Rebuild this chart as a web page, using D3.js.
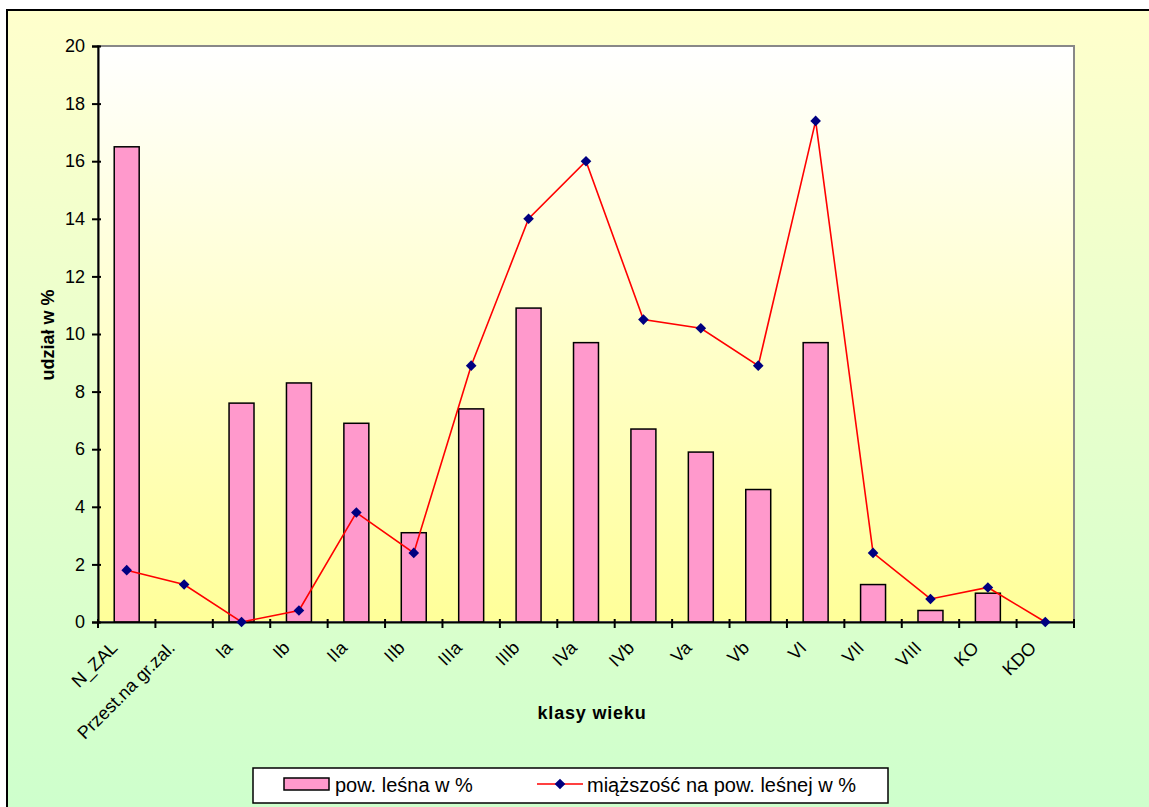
<!DOCTYPE html>
<html><head><meta charset="utf-8">
<script src="https://cdn.jsdelivr.net/npm/d3@7"></script>
<style>body{margin:0;background:#fff}svg{display:block}text{font-family:"Liberation Sans",Arial,sans-serif}</style>
</head><body>
<script>
const categories = ["N_ZAL","Przest.na gr.zal.","Ia","Ib","IIa","IIb","IIIa","IIIb","IVa","IVb","Va","Vb","VI","VII","VIII","KO","KDO"];
const powLesna = [16.5,0,7.6,8.3,6.9,3.1,7.4,10.9,9.7,6.7,5.9,4.6,9.7,1.3,0.4,1.0,0];
const miazszosc = [1.8,1.3,0,0.4,3.8,2.4,8.9,14.0,16.0,10.5,10.2,8.9,17.4,2.4,0.8,1.2,0];
const yTicks = [0,2,4,6,8,10,12,14,16,18,20];
const seriesNames = ["pow. leśna w %","miąższość na pow. leśnej w %"];
const xTitle = "klasy wieku", yTitle = "udział w %";

const W=1149,H=807;
const svg=d3.select("body").append("svg").attr("width",W).attr("height",H);
const defs=svg.append("defs");
const g1=defs.append("linearGradient").attr("id","outer").attr("x1",0).attr("y1",0).attr("x2",0).attr("y2",1);
g1.append("stop").attr("offset","0").attr("stop-color","#FFFFCC");
g1.append("stop").attr("offset","1").attr("stop-color","#CCFFCC");
const g2=defs.append("linearGradient").attr("id","plot").attr("x1",0).attr("y1",0).attr("x2",0).attr("y2",1);
g2.append("stop").attr("offset","0").attr("stop-color","#FFFFFF");
g2.append("stop").attr("offset","1").attr("stop-color","#FFFF99");

svg.append("rect").attr("x",0).attr("y",0).attr("width",W).attr("height",H).attr("fill","#fff");
svg.append("rect").attr("x",7).attr("y",10).attr("width",W+20).attr("height",H+20).attr("fill","url(#outer)").attr("stroke","#000").attr("stroke-width",2);

const L=98,R=1074,T=46,B=622;
const x=d3.scaleBand().domain(categories).range([L,R]).padding(0);
const y=d3.scaleLinear().domain([0,20]).range([B,T]);

svg.append("rect").attr("x",L).attr("y",T).attr("width",R-L).attr("height",B-T).attr("fill","url(#plot)").attr("stroke","#888").attr("stroke-width",2);

// bars
const bw=x.bandwidth()/2.3;
svg.append("g").selectAll("rect").data(categories).join("rect")
 .attr("x",(d)=>x(d)+x.bandwidth()/2-bw/2)
 .attr("y",(d,i)=>y(powLesna[i]))
 .attr("width",bw)
 .attr("height",(d,i)=>B-y(powLesna[i]))
 .attr("fill","#FF99CC").attr("stroke","#000").attr("stroke-width",1.5)
 .attr("display",(d,i)=>powLesna[i]>0?null:"none");

// axes
const ya=svg.append("g").attr("transform",`translate(${L},0)`)
 .call(d3.axisLeft(y).tickValues(yTicks).tickSize(6).tickPadding(7));
ya.select(".domain").attr("stroke","#000").attr("stroke-width",2);
ya.selectAll(".tick line").attr("stroke","#000").attr("stroke-width",2).attr("x2",-6).attr("x1",3);
ya.selectAll("text").attr("font-size",18).attr("fill","#000");

const xa=svg.append("g").attr("transform",`translate(0,${B})`)
 .call(d3.axisBottom(x).tickSize(0).tickPadding(0));
xa.select(".domain").attr("stroke","#000").attr("stroke-width",2);
xa.selectAll(".tick text").attr("font-size",18).attr("fill","#000")
 .attr("text-anchor","end").attr("dy",0).attr("y",0)
 .attr("transform","translate(-8,27) rotate(-45)");
const bounds=categories.map(c=>x(c)).concat([R]);
svg.append("g").selectAll("line").data(bounds).join("line")
 .attr("x1",d=>d).attr("x2",d=>d).attr("y1",B-3).attr("y2",B+6)
 .attr("stroke","#000").attr("stroke-width",2);

// line
const cx=(d)=>x(d)+x.bandwidth()/2;
const line=d3.line().x((d,i)=>cx(categories[i])).y(d=>y(d));
svg.append("path").datum(miazszosc).attr("d",line).attr("fill","none").attr("stroke","#FF0000").attr("stroke-width",1.6);
const diamond=d3.symbol().type(d3.symbolDiamond2).size(72);
svg.append("g").selectAll("path").data(miazszosc).join("path")
 .attr("d",diamond).attr("transform",(d,i)=>`translate(${cx(categories[i])},${y(d)})`)
 .attr("fill","#000080");

// titles
svg.append("text").attr("x",592).attr("y",719).attr("text-anchor","middle").attr("font-size",18).attr("letter-spacing",0.8).attr("font-weight","bold").text(xTitle);
svg.append("text").attr("transform",`translate(54,335) rotate(-90)`).attr("text-anchor","middle").attr("font-size",18).attr("font-weight","bold").text(yTitle);

// legend
const lg=svg.append("g");
lg.append("rect").attr("x",253).attr("y",768).attr("width",635).attr("height",35).attr("fill","#fff").attr("stroke","#000").attr("stroke-width",1.5);
lg.append("rect").attr("x",284).attr("y",778).attr("width",45).attr("height",12).attr("fill","#FF99CC").attr("stroke","#000").attr("stroke-width",1.5);
lg.append("text").attr("x",335).attr("y",792).attr("font-size",20).text(seriesNames[0]);
lg.append("line").attr("x1",537).attr("x2",583).attr("y1",784).attr("y2",784).attr("stroke","#FF0000").attr("stroke-width",1.6);
lg.append("path").attr("d",diamond).attr("transform","translate(560,784)").attr("fill","#000080");
lg.append("text").attr("x",587).attr("y",792).attr("font-size",20).text(seriesNames[1]);
</script>
</body></html>
